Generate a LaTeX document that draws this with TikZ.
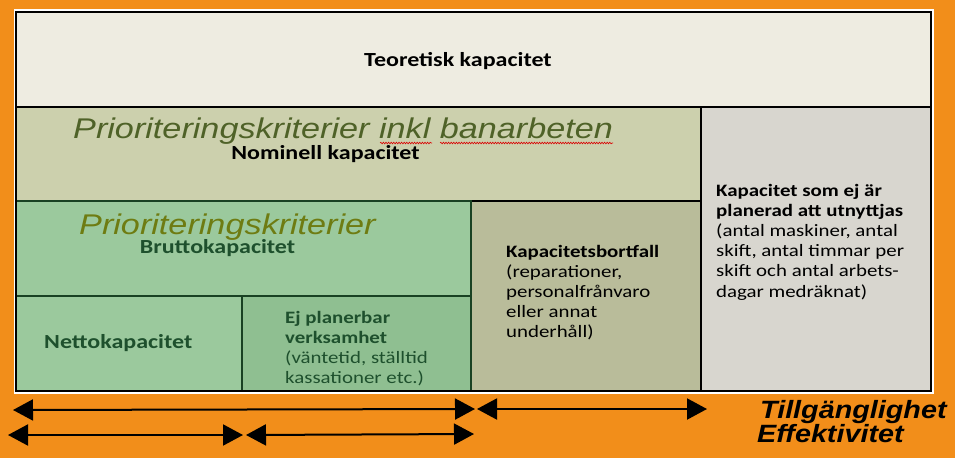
\documentclass[tikz,border=0pt]{standalone}
\usepackage{fontspec}
\usepackage{graphicx}
\setmainfont{Carlito}
\newfontfamily\arialf{Liberation Sans}
\usetikzlibrary{arrows.meta,decorations.pathmorphing}
\definecolor{bgorange}{RGB}{242,142,26}
\definecolor{teofill}{RGB}{238,236,225}
\definecolor{nomfill}{RGB}{204,208,173}
\definecolor{grnfill}{RGB}{155,201,157}
\definecolor{ejpfill}{RGB}{143,191,145}
\definecolor{bortfill}{RGB}{185,188,154}
\definecolor{rightfill}{RGB}{216,214,207}
\definecolor{dkgreen}{RGB}{30,80,45}
\definecolor{lineg}{RGB}{25,65,35}
\definecolor{prioa}{RGB}{79,98,40}
\definecolor{priob}{RGB}{110,124,18}
\newcommand{\hs}[1]{\scalebox{1.2}[1]{#1}}
\newcommand{\blk}[1]{\begin{tabular}[t]{@{}l@{}}#1\end{tabular}}
\begin{document}
\begin{tikzpicture}[x=1pt,y=-1pt,
  boxn/.style={rectangle, inner sep=0pt, outer sep=0pt, draw=black, line width=1.6pt},
  gbox/.style={boxn, draw=lineg},
  bigt/.style={inner sep=0pt, anchor=base, font=\fontsize{20}{24}\selectfont\bfseries},
  smallt/.style={inner sep=0pt, anchor=base west, font=\fontsize{17.4}{20.2}\selectfont},
  priot/.style={inner sep=0pt, anchor=base west, font=\fontsize{28.5}{34}\selectfont\arialf\itshape},
  lbl/.style={inner sep=0pt, anchor=base west, font=\fontsize{25}{30}\selectfont\arialf\bfseries\itshape},
  dbl/.style={{Triangle[length=20pt,width=21pt]}-{Triangle[length=20pt,width=21pt]}, line width=2pt, black},
  squig/.style={red!85!black, line width=0.6pt, decorate, decoration={snake, amplitude=0.8pt, segment length=2.6pt}}
]
\useasboundingbox (0,0) rectangle (955,458);
\fill[bgorange] (0,0) rectangle (955,458);
\fill[white] (13.5,9) rectangle (934,393.5);

% boxes
\node[boxn, fill=teofill, minimum width=915pt, minimum height=95pt] (teo) at (473.5,59.5) {};
\node[boxn, fill=nomfill, minimum width=685pt, minimum height=94pt] (nom) at (358.5,154) {};
\node[boxn, fill=rightfill, minimum width=230pt, minimum height=284pt] (ej) at (816,249) {};
\node[boxn, fill=bortfill, minimum width=230pt, minimum height=190pt] (bort) at (586,296) {};
\node[gbox, fill=grnfill, minimum width=455pt, minimum height=95pt] (brutto) at (243.5,248.5) {};
\node[gbox, fill=grnfill, minimum width=226pt, minimum height=95pt] (netto) at (129,343.5) {};
\node[gbox, fill=ejpfill, minimum width=229pt, minimum height=95pt] (ejplan) at (356.5,343.5) {};
\draw[black, line width=2.5pt] (16,12) rectangle (931,391);

% texts
\node[bigt] (teot) at (458,66) {\hs{Teoretisk kapacitet}};
\node[priot, text=prioa] (p1) at (73,138) {\hs{Prioriteringskriterier inkl banarbeten}};
\node[bigt] (nomt) at (325.5,159) {\hs{Nominell kapacitet}};
\node[priot, text=priob] (p2) at (79,234) {\hs{Prioriteringskriterier}};
\node[bigt, text=dkgreen] (brt) at (217.5,253) {\hs{Bruttokapacitet}};
\node[bigt, anchor=base west, text=dkgreen] (nett) at (44,348) {\hs{Nettokapacitet}};
\node[smallt, text=dkgreen] (ejpt) at (285,323) {\hs{\blk{\textbf{Ej planerbar}\\\textbf{verksamhet}\\(väntetid, ställtid\\kassationer etc.)}}};
\node[smallt] (bortt) at (506,257) {\hs{\blk{\textbf{Kapacitetsbortfall}\\(reparationer,\\personalfrånvaro\\eller annat\\underhåll)}}};
\node[smallt] (ejt) at (716,196) {\hs{\blk{\textbf{Kapacitet som ej är}\\\textbf{planerad att utnyttjas}\\(antal maskiner, antal\\skift, antal timmar per\\skift och antal arbets-\\dagar medräknat)}}};

% spell-check squiggles
\coordinate (s1a) at (380,143);
\coordinate (s1b) at (432,143);
\coordinate (s2a) at (440,143);
\coordinate (s2b) at (613,143);
\draw[squig] (s1a) -- (s1b);
\draw[squig] (s2a) -- (s2b);

% arrows
\coordinate (a1l) at (13,410);
\coordinate (a1r) at (475,409);
\coordinate (a2l) at (477,409);
\coordinate (a2r) at (707,409);
\coordinate (a3l) at (8,435);
\coordinate (a3r) at (243,435);
\coordinate (a4l) at (246,435);
\coordinate (a4r) at (474,434);
\draw[dbl] (a1l) -- (a1r);
\draw[dbl] (a2l) -- (a2r);
\draw[dbl] (a3l) -- (a3r);
\draw[dbl] (a4l) -- (a4r);

\node[lbl] (till) at (760,418) {\scalebox{1.15}[1]{Tillgänglighet}};
\node[lbl] (eff) at (757,442) {\scalebox{1.15}[1]{Effektivitet}};
\end{tikzpicture}
\end{document}
